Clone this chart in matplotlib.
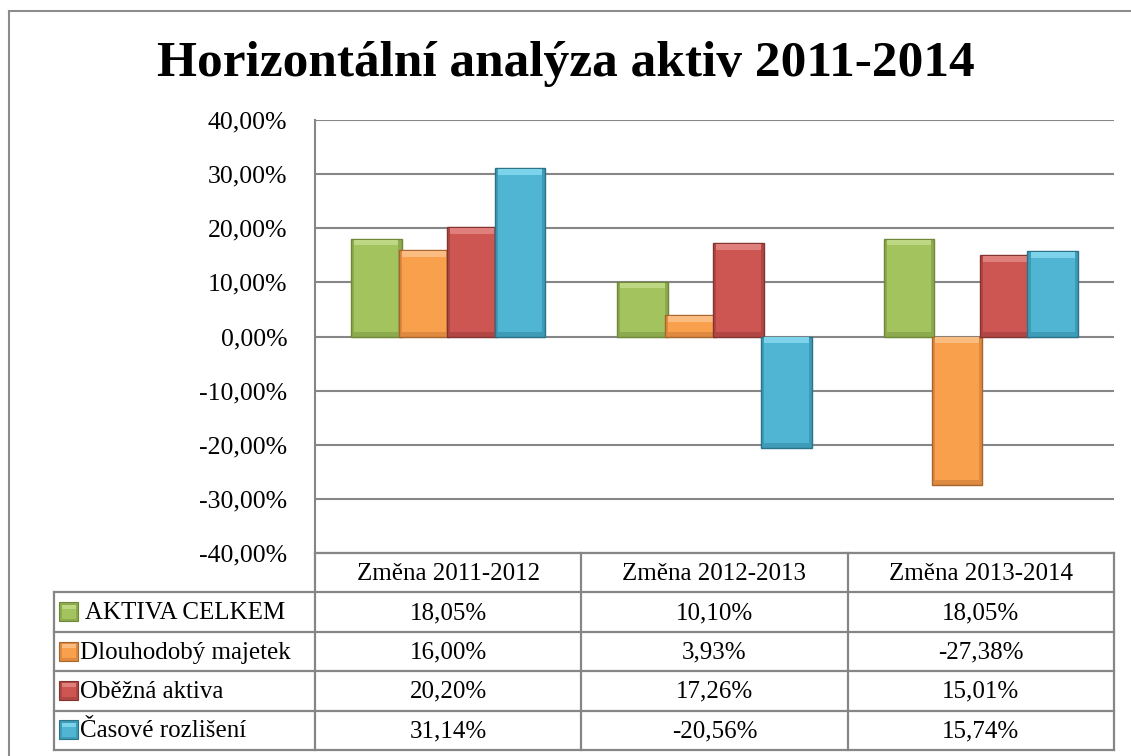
import matplotlib
matplotlib.use("Agg")
import matplotlib.pyplot as plt
from matplotlib.patches import Rectangle
import numpy as np

# ---- data ----
title = "Horizontální analýza aktiv 2011-2014"
categories = ["Změna 2011-2012", "Změna 2012-2013", "Změna 2013-2014"]
series_names = ["AKTIVA CELKEM", "Dlouhodobý majetek", "Oběžná aktiva", "Časové rozlišení"]
aktiva_celkem = [18.05, 10.10, 18.05]
dlouhodoby_majetek = [16.00, 3.93, -27.38]
obezna_aktiva = [20.20, 17.26, 15.01]
casove_rozliseni = [31.14, -20.56, 15.74]
series_values = [aktiva_celkem, dlouhodoby_majetek, obezna_aktiva, casove_rozliseni]
y_ticks = [-40, -30, -20, -10, 0, 10, 20, 30, 40]

face_colors = ["#A3C35E", "#F9A04D", "#CD5552", "#4FB5D3"]
side_colors = ["#8DAA4E", "#DE8A40", "#B04744", "#3F9CB8"]
edge_colors = ["#6E8838", "#A8652C", "#853331", "#2A7389"]
light_colors = ["#BED783", "#FBBC82", "#E0807C", "#7DD3EA"]

def fmt(v):
    return f"{v:.2f}".replace(".", ",") + "%"

W, H = 1131, 756
fig = plt.figure(figsize=(W / 100, H / 100), dpi=100)
fig.patch.set_facecolor("white")
serif = ["Liberation Serif", "DejaVu Serif"]
grid_c = "#868686"

# overlay axes in pixel coordinates
ov = fig.add_axes([0, 0, 1, 1])
ov.set_xlim(0, W)
ov.set_ylim(H, 0)
ov.axis("off")

# plot area geometry (pixels)
PL, PR, PT, PB = 315, 1114, 120, 553
ax = fig.add_axes([PL / W, 1 - PB / H, (PR - PL) / W, (PB - PT) / H])
ax.set_facecolor("none")

n_cat = len(categories)
n_ser = len(series_values)
x = np.arange(n_cat)
step = 0.18
bw = 0.19
ix = 0.012   # bevel inset (x units)
iy = 0.9     # bevel inset (y units)
for i, (vals, fc, sc, ec, lc) in enumerate(zip(series_values, face_colors, side_colors,
                                               edge_colors, light_colors)):
    xs = x + (i - (n_ser - 1) / 2) * step
    z = 3 + i * 0.1
    vals = np.array(vals)
    tops = np.maximum(vals, 0)
    bots = np.minimum(vals, 0)
    ax.bar(xs, vals, width=bw, color=sc, edgecolor=ec, linewidth=1.0, zorder=z)
    ax.bar(xs, (tops - bots) - 2 * iy, bottom=bots + iy, width=bw - 2 * ix,
           color=fc, linewidth=0, zorder=z + 0.01)
    ax.bar(xs, iy * 1.2, bottom=tops - iy * 1.2 - 0.15, width=bw - 2 * ix,
           color=lc, linewidth=0, zorder=z + 0.02)

ax.set_xlim(-0.5, n_cat - 0.5)
ax.set_ylim(y_ticks[0], y_ticks[-1])
ax.set_yticks(y_ticks)
ax.set_yticklabels([fmt(t) for t in y_ticks], fontsize=18.5, family=serif)
ax.tick_params(axis="y", length=0, pad=20)
ax.set_xticks([])
ax.yaxis.grid(True, color=grid_c, linewidth=1.5, zorder=0)
ax.set_axisbelow(True)
for s in ["top", "right", "bottom"]:
    ax.spines[s].set_visible(False)
ax.spines["left"].set_color(grid_c)
ax.spines["left"].set_linewidth(1.5)

# title
ov.text(W / 2, 76, title, ha="center", va="baseline", fontsize=37,
        fontweight="bold", family=serif, color="black")

# outer chart border (left and top visible)
ov.plot([9, 9], [11, H + 5], color="#8C8C8C", lw=1.5, clip_on=False)
ov.plot([9, W + 5], [11, 11], color="#8C8C8C", lw=1.5, clip_on=False)

# data table
TL = 54
col_w = (PR - PL) / n_cat
col_edges = [PL + k * col_w for k in range(n_cat + 1)]
row_h = 39.4
row_top = [PB + r * row_h for r in range(n_ser + 2)]
tlw = 1.6
ov.plot([PL, PR], [PB, PB], color=grid_c, lw=tlw)
for r in range(1, n_ser + 2):
    ov.plot([TL, PR], [row_top[r], row_top[r]], color=grid_c, lw=tlw)
ov.plot([TL, TL], [row_top[1], row_top[-1]], color=grid_c, lw=tlw)
for xe in col_edges:
    ov.plot([xe, xe], [PB, row_top[-1]], color=grid_c, lw=tlw)

fs_t = 18
for c, cat in enumerate(categories):
    ov.text((col_edges[c] + col_edges[c + 1]) / 2, PB + row_h / 2 + 1, cat,
            ha="center", va="center", fontsize=fs_t, family=serif)
for r, (name, vals, fc, sc, ec, lc) in enumerate(zip(series_names, series_values, face_colors,
                                                     side_colors, edge_colors, light_colors)):
    yc = row_top[r + 1] + row_h / 2
    ov.add_patch(Rectangle((59, yc - 10), 19, 19, facecolor=sc, edgecolor=ec, lw=0.8))
    ov.add_patch(Rectangle((61.5, yc - 7.5), 14, 14, facecolor=fc, lw=0))
    ov.add_patch(Rectangle((61.5, yc - 7.5), 14, 4, facecolor=lc, lw=0))
    label = (" " + name) if name == "AKTIVA CELKEM" else name
    ov.text(80, yc + 1, label, ha="left", va="center", fontsize=fs_t, family=serif)
    for c, v in enumerate(vals):
        ov.text((col_edges[c] + col_edges[c + 1]) / 2, yc + 1, fmt(v),
                ha="center", va="center", fontsize=fs_t, family=serif)

fig.savefig("out.png", dpi=100)
